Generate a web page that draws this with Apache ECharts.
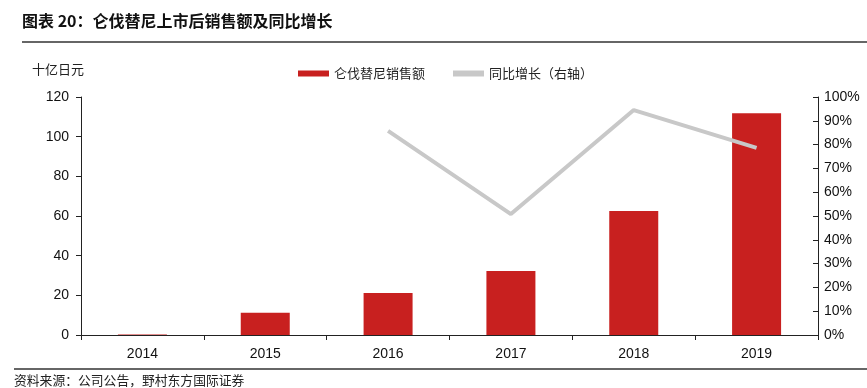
<!DOCTYPE html>
<html><head><meta charset="utf-8">
<script src="https://cdn.jsdelivr.net/npm/echarts@6/dist/echarts.min.js"></script>
<style>html,body{margin:0;padding:0;background:#fff}#c{width:867px;height:388px}</style>
</head><body><div id="c"></div>
<script>
const categories = ['2014','2015','2016','2017','2018','2019'];
const sales = [0.3, 11.2, 21.2, 32.3, 62.5, 111.8];
const growth = [null, null, 85.8, 50.8, 94.5, 78.6];
const leftTicks = [0,20,40,60,80,100,120];
const rightTicks = [0,10,20,30,40,50,60,70,80,90,100];

const font = '"Liberation Sans", Arial, "Noto Sans CJK SC", sans-serif';
const cjk = '"Noto Sans CJK SC", sans-serif';
const chart = echarts.init(document.getElementById('c'));
chart.setOption({
  animation: false,
  grid: {left: 81, right: 49, top: 97, bottom: 53, containLabel: false},
  legend: {
    top: 62, left: 293, itemGap: 28,
    textStyle: {fontFamily: cjk, fontSize: 13, color: '#222'},
    data: [
      {name: '仑伐替尼销售额', icon: 'rect', itemStyle: {color: '#c8201f'}},
      {name: '同比增长（右轴）', icon: 'rect'}
    ],
    itemWidth: 31, itemHeight: 6
  },
  xAxis: {
    type: 'category', data: categories,
    axisLine: {lineStyle: {color: '#222', width: 1}},
    axisTick: {show: true, alignWithLabel: false, length: 5, lineStyle: {color: '#222'}},
    axisLabel: {fontFamily: font, fontSize: 14, color: '#111', margin: 12}
  },
  yAxis: [
    {
      type: 'value', min: 0, max: 120, interval: 20,
      axisLine: {show: true, lineStyle: {color: '#222'}},
      axisTick: {show: true, length: 5, lineStyle: {color: '#222'}},
      axisLabel: {fontFamily: font, fontSize: 14, color: '#111', margin: 12,
        formatter: v => leftTicks.includes(v) ? String(v) : ''},
      splitLine: {show: false}
    },
    {
      type: 'value', min: 0, max: 100, interval: 10, position: 'right',
      axisLine: {show: true, lineStyle: {color: '#222'}},
      axisTick: {show: true, inside: true, length: 5, lineStyle: {color: '#222'}},
      axisLabel: {fontFamily: font, fontSize: 14, color: '#111', margin: 6,
        formatter: v => rightTicks.includes(v) ? v + '%' : ''},
      splitLine: {show: false}
    }
  ],
  series: [
    {
      name: '仑伐替尼销售额', type: 'bar', data: sales, barWidth: 49,
      itemStyle: {color: '#c8201f'}, yAxisIndex: 0
    },
    {
      name: '同比增长（右轴）', type: 'line', data: growth, yAxisIndex: 1,
      symbol: 'none', lineStyle: {color: '#c8c8c8', width: 4}, itemStyle: {color: '#c8c8c8'},
      connectNulls: false
    }
  ],
  graphic: [
    {type: 'text', left: 22, top: 13, style: {text: '图表 20：仑伐替尼上市后销售额及同比增长',
      font: 'bold 16px "Noto Sans CJK SC", sans-serif', fill: '#111'}},
    {type: 'text', left: 32, top: 63, style: {text: '十亿日元',
      font: '13px "Noto Sans CJK SC", sans-serif', fill: '#222'}},
    {type: 'line', shape: {x1: 22, y1: 42, x2: 867, y2: 42}, style: {stroke: '#333', lineWidth: 1.5}},
    {type: 'line', shape: {x1: 14, y1: 369, x2: 867, y2: 369}, style: {stroke: '#333', lineWidth: 1.5}},
    {type: 'text', left: 14, top: 374, style: {text: '资料来源：公司公告，野村东方国际证券',
      font: '12.8px "Noto Sans CJK SC", sans-serif', fill: '#222'}}
  ]
});
</script></body></html>
